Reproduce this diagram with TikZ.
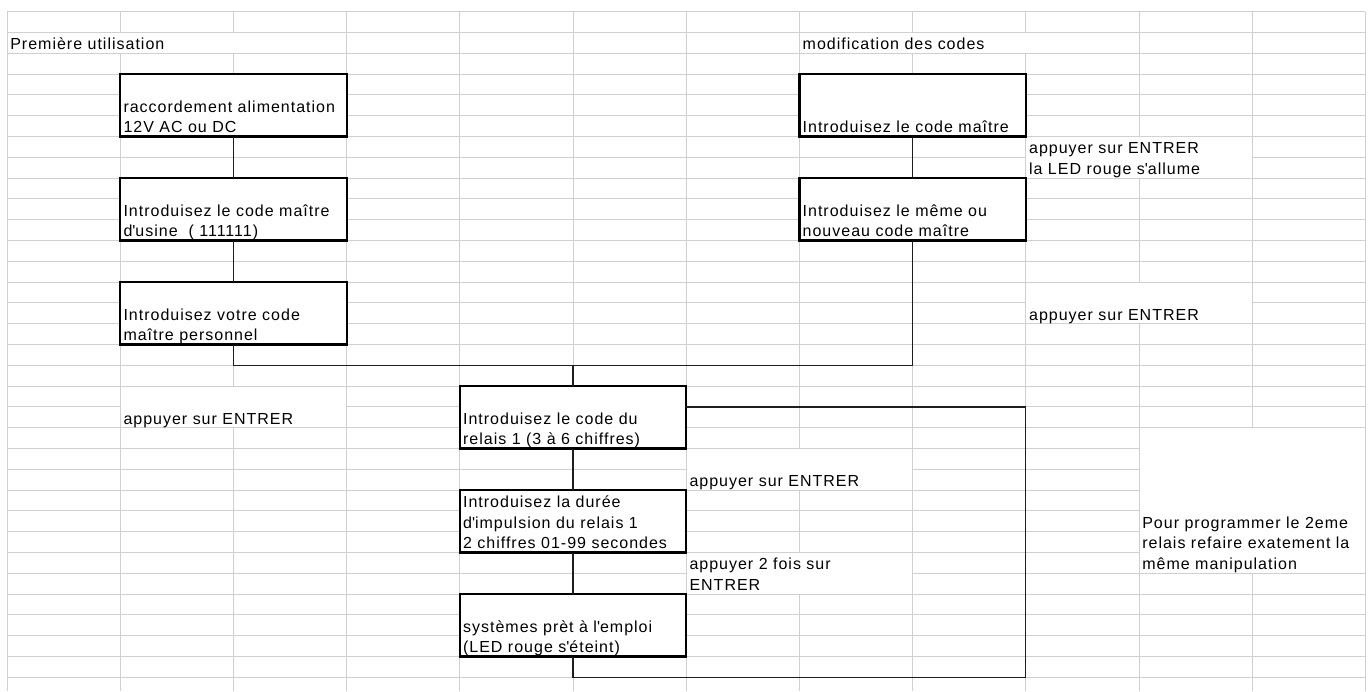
\documentclass[tikz,border=0pt]{standalone}
\usepackage{fontspec}
\newfontfamily\xl[LetterSpace=6.25]{Liberation Sans}
\definecolor{gridc}{RGB}{208,208,208}
\definecolor{connc}{RGB}{30,30,30}
\newcommand\celltext[4]{\node[txt] (#1) at ([xshift=3.3pt,yshift=3.7pt]#2,#3) {#4};}
\newcommand\mergedcell[4]{\fill[white] ([xshift=0.6pt,yshift=-0.6pt]#1,#2) rectangle ([xshift=-0.6pt,yshift=0.6pt]#3,#4);}
\newcommand\aq{\textquotesingle}
\begin{document}
\begin{tikzpicture}[x=113.2pt,y=-20.8pt,
  box/.style={draw=black, line width=2.2pt, fill=white, minimum width=226.4pt, minimum height=62.4pt, inner sep=0pt, outer sep=0pt},
  txt/.style={anchor=base west, inner sep=0pt, outer sep=0pt, font=\xl\fontsize{16}{20}\selectfont, text=black},
  conn/.style={draw=connc, line width=1.2pt},
  gridline/.style={draw=gridc, line width=1pt}]
\useasboundingbox[fill=white] (-0.06184,-0.5625) rectangle (12.0583,32.6587);
% spreadsheet grid
\foreach \r in {0,...,32} \draw[gridline] (0,\r) -- (12,\r);
\foreach \c in {0,...,12} \draw[gridline] (\c,0) -- (\c,32.6587);
% merged text cells
\mergedcell{0}{1}{3}{2}
\mergedcell{7}{1}{10}{2}
\mergedcell{9}{6}{11}{8}
\mergedcell{9}{13}{11}{15}
\mergedcell{1}{18}{3}{20}
\mergedcell{6}{21}{8}{23}
\mergedcell{6}{26}{8}{28}
\mergedcell{10}{20}{12}{27}
% boxes
\node[box] (b1) at (2,4.5) {};
\node[box] (b2) at (2,9.5) {};
\node[box] (b3) at (2,14.5) {};
\node[box] (r1) at (8,4.5) {};
\node[box] (r2) at (8,9.5) {};
\node[box] (b4) at (5,19.5) {};
\node[box] (b5) at (5,24.5) {};
\node[box] (b6) at (5,29.5) {};
\coordinate (j) at (5,17);
\coordinate (l1) at (9,32);
\coordinate (l2) at (9,19);
% connectors
\draw[conn] (b1.south) -- (b2.north);
\draw[conn] (b2.south) -- (b3.north);
\draw[conn] (r1.south) -- (r2.north);
\draw[conn] (b3.south) |- (j) -| (r2.south);
\draw[conn] (j) -- (b4.north);
\draw[conn] (b4.south) -- (b5.north);
\draw[conn] (b5.south) -- (b6.north);
\draw[conn] (b6.south) |- (l1) -- (l2) -- (b4.east |- l2);
% texts
\celltext{t0}{0}{2}{Première utilisation}
\celltext{t00}{7}{2}{modification des codes}
\celltext{t1a}{1}{5}{raccordement alimentation}
\celltext{t1b}{1}{6}{12V AC ou DC}
\celltext{t2a}{1}{10}{Introduisez le code maître}
\celltext{t2b}{1}{11}{d\aq usine\ \ ( 111111)}
\celltext{t3a}{1}{15}{Introduisez votre code}
\celltext{t3b}{1}{16}{maître personnel}
\celltext{tr1}{7}{6}{Introduisez le code maître}
\celltext{tca}{9}{7}{appuyer sur ENTRER}
\celltext{tcb}{9}{8}{la LED rouge s\aq allume}
\celltext{tr2a}{7}{10}{Introduisez le même ou}
\celltext{tr2b}{7}{11}{nouveau code maître}
\celltext{td}{9}{15}{appuyer sur ENTRER}
\celltext{te}{1}{20}{appuyer sur ENTRER}
\celltext{t4a}{4}{20}{Introduisez le code du}
\celltext{t4b}{4}{21}{relais 1 (3 à 6 chiffres)}
\celltext{tf}{6}{23}{appuyer sur ENTRER}
\celltext{t5a}{4}{24}{Introduisez la durée}
\celltext{t5b}{4}{25}{d\aq impulsion du relais 1}
\celltext{t5c}{4}{26}{2 chiffres 01-99 secondes}
\celltext{tga}{6}{27}{appuyer 2 fois sur}
\celltext{tgb}{6}{28}{ENTRER}
\celltext{t6a}{4}{30}{systèmes prèt à l\aq emploi}
\celltext{t6b}{4}{31}{(LED rouge s\aq éteint)}
\celltext{tha}{10}{25}{Pour programmer le 2eme}
\celltext{thb}{10}{26}{relais refaire exatement la}
\celltext{thc}{10}{27}{même manipulation}
\end{tikzpicture}
\end{document}
